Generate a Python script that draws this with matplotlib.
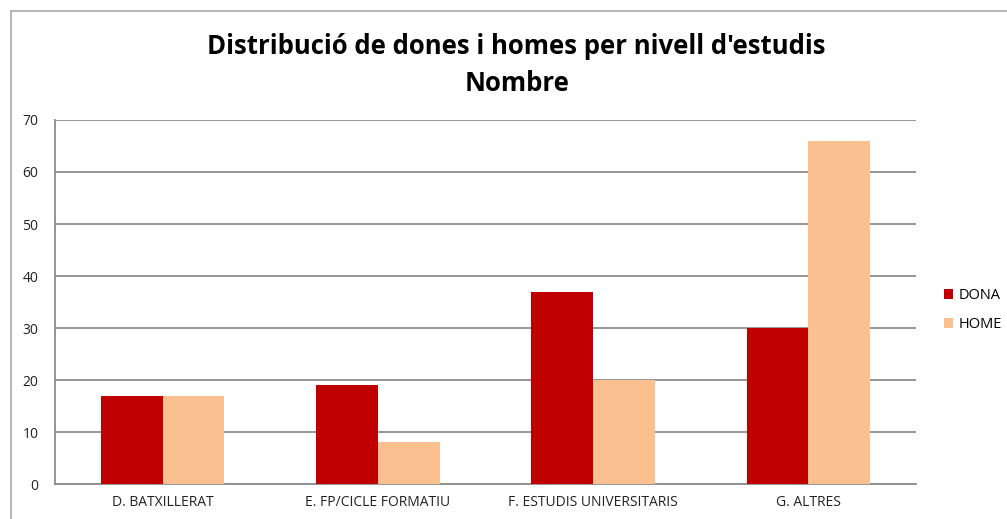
import numpy as np
import matplotlib.pyplot as plt
from matplotlib.lines import Line2D

categories = ["D. BATXILLERAT", "E. FP/CICLE FORMATIU", "F. ESTUDIS UNIVERSITARIS", "G. ALTRES"]
dona = [17, 19, 37, 30]
home = [17, 8, 20, 66]
yticks = [0, 10, 20, 30, 40, 50, 60, 70]

plt.rcParams['font.family'] = ['Open Sans', 'DejaVu Sans']

fig = plt.figure(figsize=(10.07, 5.19), dpi=100)
ax = fig.add_axes([0.0546, 0.0674, 0.855, 0.7014])

x = np.arange(len(categories))
w = 0.287
ax.bar(x - w / 2, dona, w, color="#C00000", label="DONA", zorder=3)
ax.bar(x + w / 2, home, w, color="#FAC090", label="HOME", zorder=3)

ax.set_xlim(-0.5, 3.5)
ax.set_ylim(0, 70)
ax.set_yticks(yticks)
ax.set_xticks(x)
ax.set_xticklabels(categories)
ax.yaxis.grid(True, color="#8c8c8c", linewidth=1.3, zorder=0)
ax.tick_params(length=0, labelsize=10, colors="#222222", pad=8)
ax.tick_params(axis='y', pad=12)
for s in ["top", "right"]:
    ax.spines[s].set_visible(False)
for s in ["left", "bottom"]:
    ax.spines[s].set_color("#8c8c8c")
    ax.spines[s].set_linewidth(1.3)

fig.text(0.513, 0.91, "Distribució de dones i homes per nivell d'estudis",
         ha="center", va="center", fontsize=18.5, fontweight="bold")
fig.text(0.513, 0.84, "Nombre", ha="center", va="center", fontsize=18.5, fontweight="bold")

ax.legend(loc="center left", bbox_to_anchor=(0.93, 0.402), bbox_transform=fig.transFigure,
          frameon=False, fontsize=10.5, handlelength=0.65, handleheight=0.65,
          handletextpad=0.35, labelspacing=0.95, borderpad=0)

# chart border
fig.add_artist(Line2D([0.011, 0.011], [0, 0.979], color="#aaaaaa", linewidth=1.2, transform=fig.transFigure))
fig.add_artist(Line2D([0.011, 1.0], [0.979, 0.979], color="#aaaaaa", linewidth=1.2, transform=fig.transFigure))

fig.savefig("out.png", dpi=100)
